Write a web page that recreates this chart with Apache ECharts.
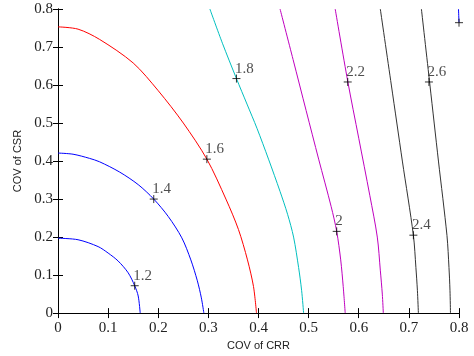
<!DOCTYPE html>
<html>
<head>
<meta charset="utf-8">
<script src="https://cdn.jsdelivr.net/npm/echarts@6/dist/echarts.min.js"></script>
<style>html,body{margin:0;padding:0;background:#fff}#c{width:474px;height:356px}</style>
</head>
<body>
<div id="c"></div>
<script>
// contour lines [COV of CRR, COV of CSR]
var c12 = [[0,0.197],[0.04,0.193],[0.08,0.175],[0.1,0.158],[0.12,0.137],[0.14,0.106],[0.153,0.072],[0.16,0.045],[0.164,0]];
var c14 = [[0,0.421],[0.03,0.418],[0.063,0.407],[0.083,0.398],[0.123,0.371],[0.16,0.338],[0.191,0.30],[0.22,0.254],[0.247,0.198],[0.265,0.14],[0.278,0.085],[0.286,0.04],[0.291,0]];
var c16 = [[0,0.753],[0.04,0.747],[0.083,0.72],[0.15,0.658],[0.2,0.585],[0.25,0.5],[0.297,0.405],[0.335,0.3],[0.36,0.22],[0.378,0.14],[0.39,0.07],[0.396,0]];
var c18 = [[0.303,0.8],[0.328,0.71],[0.356,0.617],[0.377,0.55],[0.397,0.486],[0.42,0.405],[0.443,0.32],[0.458,0.26],[0.47,0.2],[0.48,0.12],[0.486,0.06],[0.49,0]];
var c20 = [[0.443,0.8],[0.469,0.667],[0.495,0.533],[0.52,0.405],[0.545,0.28],[0.556,0.215],[0.564,0.14],[0.569,0.07],[0.573,0]];
var c22 = [[0.553,0.8],[0.578,0.61],[0.6,0.46],[0.622,0.31],[0.637,0.2],[0.643,0.113],[0.647,0.05],[0.649,0]];
var c24 = [[0.643,0.8],[0.665,0.6],[0.687,0.4],[0.709,0.205],[0.714,0.12],[0.717,0.06],[0.719,0]];
var c26 = [[0.725,0.8],[0.742,0.6],[0.759,0.4],[0.776,0.204],[0.78,0.12],[0.782,0.06],[0.783,0]];
var c28 = [[0.799,0.8],[0.8,0.765]];
var contourColors = ['#0000ff','#0000ff','#ff0000','#00bfbf','#bf00bf','#bf00bf','#333333','#333333','#0000ff'];
var contours = [c12,c14,c16,c18,c20,c22,c24,c26,c28];
// contour labels
var labelX = [0.153,0.191,0.297,0.356,0.556,0.578,0.709,0.74,0.8];
var labelY = [0.072,0.300,0.405,0.617,0.215,0.608,0.205,0.608,0.764];
var labelText = ['1.2','1.4','1.6','1.8','2','2.2','2.4','2.6','2.8'];
var xTicks = ['0','0.1','0.2','0.3','0.4','0.5','0.6','0.7','0.8'];

var serif = 'Liberation Serif';
var series = contours.map(function(c,i){
  return {type:'line', data:c, smooth:0.3, showSymbol:false, symbol:'none',
    lineStyle:{color:contourColors[i], width:1}, z:2, silent:true, clip:true};
});
series.push({
  type:'scatter', z:5, silent:true,
  data: labelX.map(function(x,i){return {value:[x,labelY[i]], name:labelText[i],
    label:{show: x < 0.8}};}),
  symbol:'path://M0,4L8,4M4,0L4,8', symbolSize:8,
  itemStyle:{color:'none', borderColor:'#000', borderWidth:1},
  label:{show:true, formatter:function(p){return p.name;}, position:[5,-11],
    fontFamily:serif, fontSize:15, color:'#222'}
});

var chart = echarts.init(document.getElementById('c'), null, {renderer:'canvas'});
chart.setOption({
  animation:false,
  backgroundColor:'#fff',
  grid:{left:58, right:15, top:9, bottom:39, containLabel:false},
  xAxis:[{
    type:'value', min:0, max:0.8, interval:0.1, position:'bottom',
    name:'COV of CRR', nameLocation:'middle', nameGap:22,
    nameTextStyle:{fontFamily:'Liberation Sans', fontSize:11, color:'#222'},
    axisLine:{show:true, lineStyle:{color:'#000', width:1}},
    axisTick:{show:true, inside:true, length:5, lineStyle:{color:'#000'}},
    axisLabel:{fontFamily:serif, fontSize:15, color:'#222', margin:7,
      formatter:function(v){return xTicks[Math.round(v*10)];}},
    splitLine:{show:false}
  },{
    type:'value', min:0, max:0.8, interval:0.1, position:'top',
    axisLine:{show:true, lineStyle:{color:'#000', width:1}},
    axisTick:{show:true, inside:true, length:5, lineStyle:{color:'#000'}},
    axisLabel:{show:false}, splitLine:{show:false}
  }],
  yAxis:[{
    type:'value', min:0, max:0.8, interval:0.1, position:'left',
    name:'COV of CSR', nameLocation:'middle', nameGap:33,
    nameTextStyle:{fontFamily:'Liberation Sans', fontSize:11, color:'#222'},
    axisLine:{show:true, lineStyle:{color:'#000', width:1}},
    axisTick:{show:true, inside:true, length:5, lineStyle:{color:'#000'}},
    axisLabel:{fontFamily:serif, fontSize:15, color:'#222', margin:5,
      formatter:function(v){return xTicks[Math.round(v*10)];}},
    splitLine:{show:false}
  },{
    type:'value', min:0, max:0.8, interval:0.1, position:'right',
    axisLine:{show:true, lineStyle:{color:'#000', width:1}},
    axisTick:{show:true, inside:true, length:5, lineStyle:{color:'#000'}},
    axisLabel:{show:false}, splitLine:{show:false}
  }],
  series:series
});
</script>
</body>
</html>
